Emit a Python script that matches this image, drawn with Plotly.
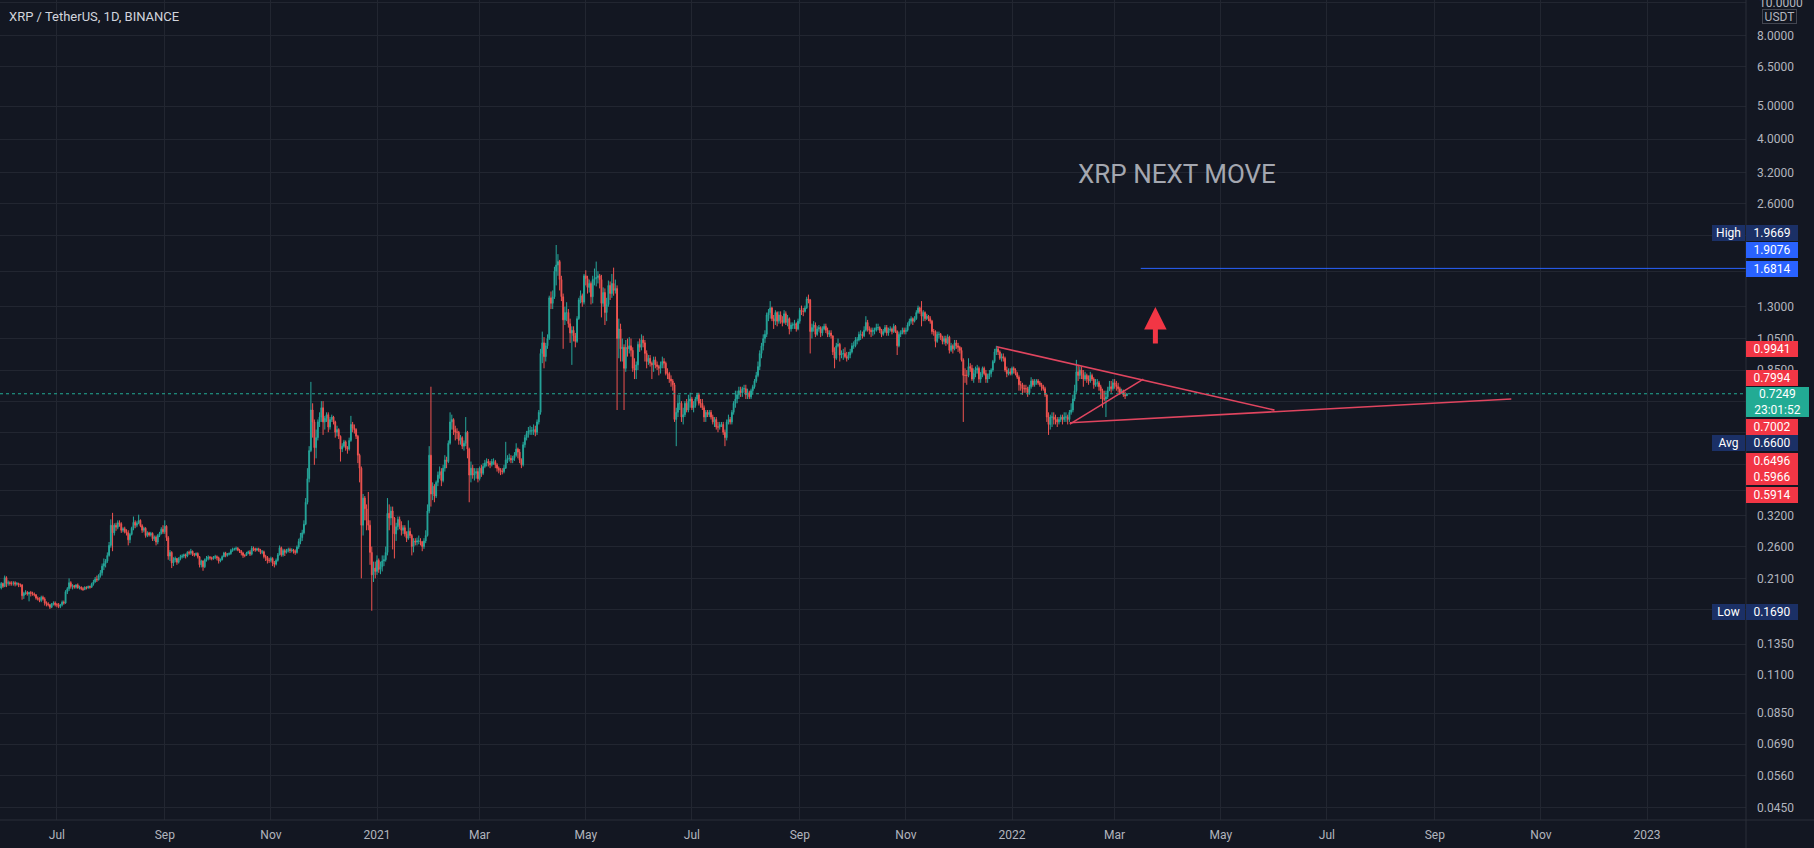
import numpy as np
import pandas as pd
import plotly.graph_objects as go

# ---------------- data (prices in thousandths of USDT, daily candles) ----------------
START = "2020-05-29"
FIRST_OPEN = 199

CLOSE = [
    197, 203, 199,  # May 2020 (29-31)
    211, 203, 204, 203, 203, 204, 202, 203, 201, 201, 187, 190, 191, 189, 191, 190, 189, 188, 184, 183, 181, 185, 183, 178, 177, 176, 173, 177, 178, 176,
    176, 174, 176, 179, 178, 192, 196, 204, 199, 200, 198, 201, 197, 198, 196, 195, 198, 197, 199, 198, 202, 205, 209, 208, 214, 218, 228, 232, 236, 245, 262,
    300, 285, 300, 296, 305, 303, 290, 293, 287, 285, 272, 282, 294, 306, 300, 304, 310, 299, 290, 294, 280, 285, 281, 284, 274, 277, 268, 280, 284, 292, 287,
    298, 276, 244, 250, 233, 238, 240, 234, 240, 243, 244, 246, 244, 250, 249, 252, 247, 246, 248, 243, 230, 236, 227, 238, 240, 242, 241, 240, 242, 243,
    241, 236, 238, 243, 249, 245, 247, 248, 253, 255, 256, 257, 254, 252, 249, 245, 245, 249, 251, 247, 257, 256, 254, 256, 254, 250, 251, 243, 242, 237, 237,
    240, 233, 231, 237, 246, 258, 246, 253, 250, 253, 255, 253, 254, 252, 250, 259, 269, 276, 285, 302, 350, 410, 495, 650, 600, 505, 540, 600, 620, 660,
    600, 615, 630, 580, 610, 620, 600, 560, 570, 545, 500, 510, 525, 505, 500, 530, 590, 575, 570, 545, 480, 440, 300, 360, 335, 310, 300, 250, 215, 225, 220,
    237, 223, 227, 236, 238, 250, 325, 315, 330, 315, 283, 297, 312, 300, 290, 295, 283, 275, 288, 280, 260, 270, 268, 270, 270, 268, 260, 270, 280, 330, 480,
    370, 390, 365, 400, 420, 430, 405, 440, 465, 460, 520, 600, 610, 570, 560, 560, 530, 540, 510, 520, 560, 500, 420, 440, 420, 425, 430, 410,
    440, 425, 445, 455, 460, 455, 450, 460, 460, 450, 440, 435, 430, 430, 440, 465, 470, 470, 465, 470, 480, 500, 490, 465, 450, 515, 540, 555, 565, 565, 565,
    570, 560, 600, 640, 950, 1020, 930, 1000, 1050, 1380, 1330, 1390, 1650, 1720, 1760, 1560, 1390, 1190, 1250, 1250, 1160, 1090, 1110, 1070, 1030, 1200, 1360, 1400, 1340, 1600,
    1570, 1480, 1520, 1390, 1560, 1570, 1580, 1600, 1560, 1330, 1430, 1250, 1320, 1500, 1420, 1520, 1450, 1470, 1050, 1120, 980, 990, 860, 990, 980, 1000, 970, 860, 850, 880, 1010,
    990, 1040, 1020, 950, 900, 920, 890, 880, 910, 880, 870, 860, 880, 900, 890, 830, 830, 800, 790, 770, 610, 640, 680, 680, 620, 630, 680, 650, 690, 700,
    660, 670, 700, 720, 680, 680, 660, 620, 640, 630, 640, 620, 600, 610, 580, 580, 590, 590, 560, 540, 600, 610, 600, 640, 680, 700, 720, 740, 730, 750, 750,
    720, 730, 710, 740, 760, 790, 820, 870, 950, 1000, 1050, 1080, 1230, 1250, 1290, 1200, 1180, 1250, 1180, 1230, 1190, 1170, 1240, 1170, 1200, 1120, 1150, 1150, 1160, 1120, 1180,
    1270, 1260, 1260, 1290, 1370, 1360, 1100, 1130, 1150, 1080, 1120, 1130, 1090, 1120, 1140, 1110, 1080, 1090, 1070, 960, 920, 1000, 1010, 940, 950, 950, 930, 920, 940, 960,
    1000, 1000, 1040, 1040, 1080, 1080, 1070, 1110, 1170, 1120, 1110, 1100, 1110, 1110, 1130, 1130, 1110, 1080, 1100, 1130, 1090, 1110, 1120, 1100, 1140, 1100, 1000, 1080, 1090, 1110, 1100,
    1110, 1150, 1180, 1200, 1180, 1200, 1250, 1290, 1260, 1220, 1250, 1200, 1220, 1200, 1180, 1100, 1100, 1030, 1080, 1080, 1060, 1030, 1050, 1020, 1060, 970, 1000, 980, 1020, 1000,
    990, 970, 910, 820, 820, 820, 870, 860, 800, 830, 850, 860, 800, 830, 860, 830, 800, 820, 830, 850, 900, 960, 980, 960, 920, 930, 920, 850, 830, 840, 830,
    860, 850, 830, 810, 770, 770, 750, 750, 750, 730, 760, 790, 770, 790, 790, 780, 770, 760, 750, 720, 620, 590, 620, 620, 610, 610, 600, 610, 620, 610, 620,
    620, 610, 640, 650, 700, 740, 840, 820, 850, 830, 800, 820, 800, 790, 820, 800, 770, 780, 780, 760, 740, 700, 700, 710, 740, 760, 750, 780,
    770, 760, 750, 730, 740, 720, 715, 724.9,  # Mar 2022 (1-8)
]

HIGH = [
    202, 205, 204,
    214, 213, 207, 206, 206, 206, 206, 205, 204, 203, 202, 192, 194, 193, 192, 193, 192, 191, 189, 186, 185, 187, 187, 185, 180, 179, 177, 178, 180, 180,
    178, 178, 177, 181, 181, 194, 198, 210, 206, 202, 201, 202, 203, 200, 199, 198, 199, 199, 200, 200, 204, 208, 212, 214, 216, 222, 232, 240, 239, 250, 268,
    312, 326, 304, 305, 310, 310, 306, 296, 297, 292, 290, 285, 297, 318, 310, 308, 322, 312, 302, 297, 296, 288, 287, 287, 286, 280, 280, 283, 287, 296, 300,
    310, 300, 279, 254, 252, 242, 243, 241, 242, 246, 247, 248, 248, 252, 253, 256, 253, 249, 250, 250, 244, 238, 237, 240, 244, 245, 244, 243, 244, 246,
    245, 243, 240, 245, 251, 251, 249, 250, 256, 258, 258, 260, 259, 256, 254, 251, 247, 251, 253, 254, 261, 260, 258, 258, 258, 256, 254, 253, 246, 244, 241,
    243, 242, 236, 240, 249, 262, 260, 256, 256, 256, 258, 258, 257, 256, 255, 262, 274, 285, 291, 310, 360, 440, 510, 785, 680, 610, 570, 610, 640, 690,
    690, 625, 640, 640, 620, 630, 625, 605, 585, 575, 548, 520, 532, 530, 510, 540, 625, 600, 590, 575, 550, 485, 445, 370, 365, 345, 375, 310, 260, 235, 235,
    245, 240, 235, 245, 245, 260, 360, 345, 340, 340, 317, 305, 318, 318, 308, 300, 300, 288, 310, 295, 283, 275, 275, 276, 280, 275, 270, 275, 290, 345, 510,
    760, 400, 395, 405, 430, 445, 440, 450, 480, 475, 530, 640, 630, 615, 585, 575, 565, 550, 545, 530, 620, 565, 505, 460, 450, 440, 440, 440,
    445, 450, 455, 465, 470, 468, 462, 468, 470, 465, 455, 445, 440, 440, 450, 525, 480, 485, 480, 478, 490, 520, 505, 500, 470, 525, 550, 565, 580, 585, 580,
    590, 585, 610, 650, 980, 1100, 1060, 1020, 1080, 1400, 1440, 1450, 1700, 1967, 1850, 1780, 1600, 1420, 1300, 1340, 1280, 1200, 1140, 1140, 1090, 1220, 1380, 1450, 1420, 1620,
    1660, 1600, 1560, 1540, 1600, 1680, 1760, 1650, 1620, 1610, 1480, 1470, 1380, 1550, 1540, 1620, 1690, 1560, 1500, 1200, 1160, 1050, 1010, 1040, 1050, 1060, 1050, 990, 920, 900, 1030,
    1050, 1080, 1070, 1040, 970, 940, 940, 900, 930, 930, 900, 880, 900, 930, 920, 900, 860, 840, 820, 800, 780, 660, 720, 720, 690, 660, 690, 700, 720, 730,
    710, 690, 710, 730, 730, 700, 700, 670, 650, 650, 650, 650, 630, 620, 620, 600, 600, 600, 600, 570, 610, 630, 620, 650, 690, 740, 740, 760, 760, 760, 770,
    770, 750, 740, 750, 770, 800, 840, 900, 970, 1020, 1080, 1110, 1250, 1280, 1350, 1300, 1230, 1270, 1260, 1260, 1260, 1220, 1270, 1260, 1230, 1210, 1170, 1170, 1190, 1170, 1200,
    1290, 1310, 1290, 1310, 1390, 1410, 1370, 1160, 1180, 1170, 1140, 1150, 1140, 1140, 1160, 1160, 1130, 1110, 1110, 1070, 990, 1020, 1050, 1020, 970, 980, 990, 960, 960, 980,
    1020, 1030, 1060, 1060, 1100, 1110, 1100, 1140, 1220, 1190, 1140, 1130, 1130, 1130, 1160, 1160, 1140, 1120, 1120, 1150, 1150, 1130, 1140, 1130, 1160, 1150, 1110, 1100, 1110, 1130, 1130,
    1130, 1170, 1200, 1220, 1210, 1220, 1270, 1310, 1300, 1350, 1270, 1260, 1240, 1230, 1220, 1190, 1120, 1110, 1100, 1100, 1090, 1070, 1070, 1070, 1080, 1070, 1020, 1010, 1040, 1040,
    1020, 1000, 990, 920, 860, 850, 920, 890, 880, 860, 870, 880, 870, 840, 870, 870, 850, 830, 850, 860, 910, 980, 1000, 990, 970, 950, 950, 930, 870, 860, 860,
    870, 870, 860, 840, 820, 790, 780, 770, 770, 760, 770, 810, 800, 800, 800, 800, 790, 780, 770, 760, 720, 640, 630, 640, 640, 630, 620, 620, 630, 630, 640,
    640, 630, 650, 680, 720, 770, 910, 880, 870, 870, 850, 840, 830, 820, 840, 830, 810, 800, 800, 790, 770, 750, 740, 740, 760, 790, 790, 800,
    800, 790, 780, 760, 750, 745, 735, 728,
]

LOW = [
    194, 195, 197,
    198, 198, 200, 200, 200, 200, 199, 200, 198, 198, 182, 183, 188, 187, 180, 186, 187, 186, 182, 181, 179, 179, 181, 175, 174, 174, 171, 172, 175, 174,
    173, 172, 172, 174, 176, 177, 189, 193, 196, 195, 196, 196, 196, 195, 194, 193, 194, 195, 196, 196, 197, 200, 204, 205, 207, 211, 214, 222, 226, 233, 243,
    258, 252, 280, 289, 292, 297, 285, 286, 284, 280, 262, 266, 280, 290, 294, 296, 302, 296, 285, 286, 276, 277, 278, 278, 270, 270, 262, 264, 277, 282, 283,
    283, 270, 238, 236, 225, 228, 234, 230, 232, 237, 240, 241, 240, 242, 246, 246, 244, 243, 244, 240, 226, 226, 221, 225, 235, 237, 238, 237, 238, 239,
    237, 232, 234, 237, 242, 242, 243, 245, 246, 251, 253, 253, 252, 249, 245, 241, 242, 244, 247, 244, 245, 252, 251, 252, 251, 247, 247, 240, 236, 232, 233,
    234, 228, 226, 229, 235, 245, 243, 243, 244, 248, 250, 249, 250, 248, 246, 248, 256, 264, 270, 282, 300, 345, 400, 490, 540, 450, 470, 530, 580, 600,
    550, 570, 600, 560, 570, 600, 590, 540, 545, 535, 460, 490, 505, 495, 485, 495, 525, 560, 555, 535, 455, 400, 210, 280, 310, 290, 290, 230, 169, 205, 210,
    215, 218, 216, 220, 228, 235, 245, 290, 300, 255, 240, 270, 290, 292, 280, 283, 278, 268, 272, 275, 245, 250, 262, 262, 264, 262, 252, 256, 266, 278, 325,
    340, 355, 350, 360, 390, 410, 390, 400, 430, 440, 455, 515, 570, 550, 530, 535, 515, 515, 500, 495, 510, 470, 350, 400, 410, 405, 410, 400,
    405, 415, 420, 440, 445, 445, 440, 445, 450, 440, 430, 425, 420, 422, 425, 438, 455, 460, 455, 455, 462, 475, 470, 455, 440, 445, 505, 530, 540, 550, 550,
    550, 545, 550, 590, 630, 890, 860, 900, 980, 1040, 1280, 1280, 1370, 1500, 1600, 1450, 1350, 980, 1150, 1180, 1130, 1020, 880, 1030, 990, 1020, 1190, 1330, 1300, 1320,
    1500, 1420, 1430, 1320, 1330, 1500, 1490, 1520, 1470, 1210, 1300, 1150, 1180, 1300, 1360, 1380, 1400, 1420, 650, 920, 900, 900, 650, 840, 930, 950, 930, 840, 800, 800, 850,
    960, 970, 990, 900, 860, 880, 870, 800, 840, 860, 850, 820, 830, 860, 860, 820, 800, 780, 760, 740, 600, 510, 620, 650, 600, 590, 620, 640, 640, 660,
    650, 640, 660, 690, 670, 660, 650, 600, 600, 620, 620, 610, 590, 580, 570, 560, 570, 580, 550, 510, 530, 590, 590, 590, 630, 660, 680, 700, 710, 710, 730,
    700, 700, 700, 700, 720, 750, 780, 810, 850, 920, 970, 1020, 1060, 1180, 1200, 1180, 1120, 1150, 1140, 1160, 1160, 1140, 1160, 1150, 1140, 1080, 1100, 1120, 1120, 1100, 1110,
    1160, 1230, 1220, 1250, 1280, 1330, 950, 1050, 1100, 1060, 1070, 1100, 1060, 1070, 1110, 1090, 1060, 1060, 1050, 940, 860, 910, 990, 900, 920, 910, 920, 900, 910, 920,
    950, 980, 990, 1010, 1030, 1040, 1050, 1060, 1100, 1100, 1080, 1060, 1070, 1080, 1100, 1110, 1090, 1060, 1070, 1090, 1070, 1070, 1100, 1080, 1090, 1090, 940, 990, 1060, 1080, 1080,
    1080, 1100, 1140, 1160, 1150, 1170, 1190, 1240, 1240, 1140, 1180, 1180, 1190, 1180, 1160, 1080, 1070, 990, 1020, 1050, 1040, 1010, 1010, 1000, 1010, 950, 960, 950, 970, 980,
    960, 950, 900, 600, 780, 770, 810, 840, 790, 780, 810, 830, 780, 780, 810, 820, 780, 780, 800, 810, 840, 890, 940, 940, 910, 900, 900, 840, 810, 820, 820,
    820, 830, 820, 800, 740, 740, 720, 730, 730, 710, 720, 750, 760, 760, 770, 770, 760, 740, 740, 710, 600, 550, 570, 580, 590, 590, 580, 590, 600, 590, 600,
    600, 590, 600, 630, 640, 690, 730, 790, 800, 800, 760, 790, 780, 770, 780, 790, 750, 760, 760, 740, 700, 660, 690, 620, 700, 740, 730, 740,
    750, 740, 730, 720, 725, 710, 700, 714,
]

# drawings (date, price)
UPPER_LINE = (["2021-12-23 05:00", "2022-05-31 21:00"], [0.9941, 0.6496])
INNER_LINE = (["2022-02-03 05:00", "2022-03-17 12:00"], [0.5914, 0.7994])
LOWER_LINE = (["2022-02-03 05:00", "2022-10-15 00:00"], [0.5966, 0.7002])
TARGET_LEVEL = 1.6814
TARGET_START = "2022-03-16"
LAST_PRICE = 0.7249

Y_TICKS = [10, 8, 6.5, 5, 4, 3.2, 2.6, 2.1, 1.65, 1.3, 1.05, 0.85, 0.69, 0.56, 0.45, 0.38,
           0.32, 0.26, 0.21, 0.17, 0.135, 0.11, 0.085, 0.069, 0.056, 0.045]
# tick labels hidden behind the price-label boxes on the right scale
Y_HIDDEN = [10, 2.1, 1.65, 0.69, 0.56, 0.45, 0.38, 0.17]
X_TICKS = ["2020-07-01", "2020-09-01", "2020-11-01", "2021-01-01", "2021-03-01", "2021-05-01",
           "2021-07-01", "2021-09-01", "2021-11-01", "2022-01-01", "2022-03-01", "2022-05-01",
           "2022-07-01", "2022-09-01", "2022-11-01", "2023-01-01"]
X_LABELS = ["Jul", "Sep", "Nov", "2021", "Mar", "May", "Jul", "Sep", "Nov", "2022", "Mar", "May",
            "Jul", "Sep", "Nov", "2023"]

# ---------------- build ----------------
n = min(len(CLOSE), len(HIGH), len(LOW))
close = np.array(CLOSE[:n], dtype=float) / 1000
high_raw = np.array(HIGH[:n], dtype=float) / 1000
low_raw = np.array(LOW[:n], dtype=float) / 1000
open_ = np.concatenate([[FIRST_OPEN / 1000], close[:-1]])
high = np.maximum.reduce([high_raw, open_, close])
low = np.minimum.reduce([low_raw, open_, close])
dates = pd.date_range(START, periods=n, freq="D")

BG = "#131722"
GRID = "#222631"
AXIS_LINE = "#2a2e39"
TXT = "#b2b5be"
FONT = "Roboto"

X_RANGE = ["2020-05-29 07:12", "2023-02-26 21:36"]
Y_RANGE = [-1.382, 1.0079]

W, H = 1814, 848
ML, MR, MT, MB = 0, 68, 0, 28
PW, PH = W - ML - MR, H - MT - MB

fig = go.Figure()

fig.add_trace(go.Candlestick(
    x=dates, open=open_, high=high, low=low, close=close,
    increasing=dict(line=dict(color="#26a69a", width=1), fillcolor="#26a69a"),
    decreasing=dict(line=dict(color="#ef5350", width=1), fillcolor="#ef5350"),
    whiskerwidth=0, showlegend=False, hoverinfo="skip",
))

# last price dotted line
fig.add_trace(go.Scatter(x=X_RANGE, y=[LAST_PRICE, LAST_PRICE], mode="lines",
                         line=dict(color="#22ab94", width=1, dash="dot"),
                         showlegend=False, hoverinfo="skip"))

# target line
fig.add_trace(go.Scatter(x=[TARGET_START, "2023-06-01"], y=[TARGET_LEVEL, TARGET_LEVEL], mode="lines",
                         line=dict(color="#2962ff", width=1), showlegend=False, hoverinfo="skip"))

# triangle lines
for xs, ys in (UPPER_LINE, INNER_LINE, LOWER_LINE):
    fig.add_trace(go.Scatter(x=xs, y=ys, mode="lines", line=dict(color="#e0455f", width=1.6),
                             showlegend=False, hoverinfo="skip"))

annotations = []

# title
annotations.append(dict(text="XRP / TetherUS, 1D, BINANCE", xref="paper", yref="paper",
                        x=7 / PW, y=1 - 16 / PH, xanchor="left", yanchor="middle", showarrow=False,
                        font=dict(family=FONT, size=13, color="#d1d4dc")))

# chart text + arrow
annotations.append(dict(text="XRP NEXT MOVE", xref="x", yref="y", x="2022-04-06",
                        y=np.log10(3.168), showarrow=False, xanchor="center", yanchor="middle",
                        font=dict(family=FONT, size=26, color="#a4a7b0")))
annotations.append(dict(text="", xref="x", yref="y", x="2022-03-24 10:00", y=np.log10(1.297),
                        ax=0, ay=38, axref="pixel", ayref="pixel", showarrow=True,
                        arrowhead=2, arrowsize=0.9, arrowwidth=5, arrowcolor="#f23645", standoff=0))


def box(text, yc, x0, x1, color, h=16, size=12, fcolor="white"):
    annotations.append(dict(
        text=text, xref="paper", yref="paper", x=((x0 + x1) / 2) / PW, y=1 - yc / PH,
        xanchor="center", yanchor="middle", showarrow=False, width=x1 - x0, height=h,
        bgcolor=color, borderpad=0, borderwidth=0, align="center", valign="middle",
        font=dict(family=FONT, size=size, color=fcolor)))


NAVY = "#1b3066"
RED = "#f23645"
BLUE = "#2962ff"
TEAL = "#22ab94"
VX0, VX1 = 1746, 1798
LX0, LX1 = 1712, 1745

box("High", 232.7, LX0, LX1, NAVY)
box("1.9669", 232.7, VX0, VX1, NAVY)
box("1.9076", 250.3, VX0, VX1, BLUE)
box("1.6814", 269.0, VX0, VX1, BLUE)
box("0.9941", 348.7, VX0, VX1, RED)
box("0.7994", 378.3, VX0, VX1, RED)
box("0.7249<br>23:01:52", 402.3, VX0, 1809, TEAL, h=30)
box("0.7002", 426.7, VX0, VX1, RED)
box("Avg", 443.0, LX0, LX1, NAVY)
box("0.6600", 443.0, VX0, VX1, NAVY)
box("0.6496", 460.7, VX0, VX1, RED)
box("0.5966", 477.3, VX0, VX1, RED)
box("0.5914", 494.7, VX0, VX1, RED)
box("Low", 611.7, LX0, LX1, NAVY)
box("0.1690", 611.7, VX0, VX1, NAVY)

# top scale label, cut by the window edge and partly under the currency box
annotations.append(dict(text="10.0000", xref="paper", yref="paper", x=1756.5 / PW, y=1 - 2.7 / PH,
                        xanchor="left", yanchor="middle", showarrow=False,
                        font=dict(family=FONT, size=12, color=TXT)))
# currency box
annotations.append(dict(text="USDT", xref="paper", yref="paper", x=1780 / PW, y=1 - 16 / PH,
                        xanchor="center", yanchor="middle", showarrow=False, width=33, height=13,
                        bgcolor=BG, bordercolor="#434651", borderwidth=1, borderpad=0,
                        font=dict(family=FONT, size=12, color=TXT)))

shapes = [
    dict(type="line", xref="paper", yref="paper", x0=1, x1=1, y0=-MB / PH, y1=1,
         line=dict(color=AXIS_LINE, width=1), layer="above"),
    dict(type="line", xref="paper", yref="paper", x0=0, x1=(W - ML) / PW, y0=0, y1=0,
         line=dict(color=AXIS_LINE, width=1), layer="above"),
]

fig.update_layout(
    width=W, height=H, margin=dict(l=ML, r=MR, t=MT, b=MB, pad=0),
    paper_bgcolor=BG, plot_bgcolor=BG, showlegend=False,
    annotations=annotations, shapes=shapes,
    font=dict(family=FONT, color=TXT, size=12),
    xaxis=dict(type="date", range=X_RANGE, tickvals=X_TICKS, ticktext=X_LABELS,
               showgrid=True, gridcolor=GRID, gridwidth=1, zeroline=False,
               showline=False, ticks="", ticklabelstandoff=6,
               tickfont=dict(family=FONT, size=12, color=TXT),
               rangeslider=dict(visible=False), fixedrange=True),
    yaxis=dict(type="log", side="right", range=Y_RANGE, tickvals=Y_TICKS,
               ticktext=["" if v in Y_HIDDEN else f"{v:.4f}" for v in Y_TICKS],
               showgrid=True, gridcolor=GRID, gridwidth=1, zeroline=False,
               showline=False, ticks="", ticklabelstandoff=10,
               tickfont=dict(family=FONT, size=12, color=TXT), fixedrange=True),
)

fig.write_html("out.html", config={"displayModeBar": False})
